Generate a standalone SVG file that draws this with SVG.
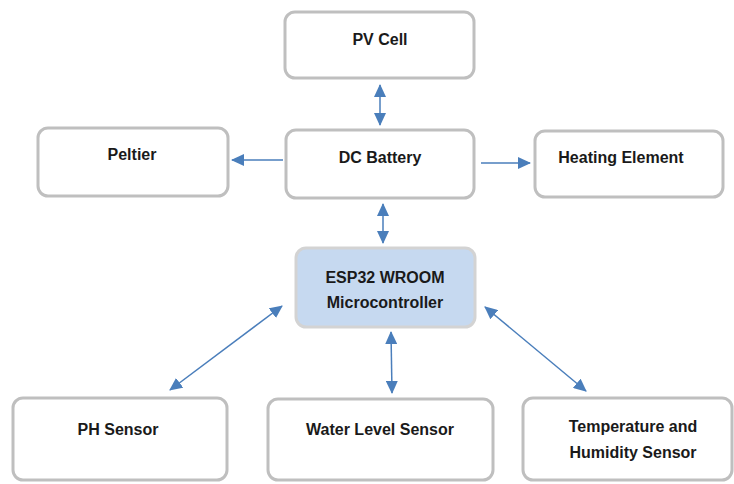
<svg xmlns="http://www.w3.org/2000/svg" width="734" height="484" viewBox="0 0 734 484">
<style>
.box{fill:#ffffff;stroke:#bfbfbf;stroke-width:3}
.mc{fill:#c6d9f0;stroke:#d3d3d3;stroke-width:3}
.t{font-family:"Liberation Sans",Arial,sans-serif;font-weight:bold;font-size:16px;fill:#1a1a1a;text-anchor:middle}
.c{stroke:#4a7ebb;stroke-width:1.5;fill:none}
</style>
<defs>
<marker id="ah" viewBox="0 0 13 12" refX="12" refY="6" markerWidth="13" markerHeight="12" markerUnits="userSpaceOnUse" orient="auto-start-reverse">
<path d="M0,0 L13,6 L0,12 Z" fill="#4a7ebb"/>
</marker>
</defs>
<g id="pv"><rect class="box" x="285" y="12" width="189" height="66" rx="10"/><text class="t" x="380" y="45">PV Cell</text></g>
<g id="battery"><rect class="box" x="286" y="130" width="188" height="68" rx="10"/><text class="t" x="380" y="163">DC Battery</text></g>
<g id="peltier"><rect class="box" x="38" y="128" width="190" height="68" rx="10"/><text class="t" x="132" y="160">Peltier</text></g>
<g id="heating"><rect class="box" x="535" y="131" width="188" height="66" rx="10"/><text class="t" x="621" y="163">Heating Element</text></g>
<g id="esp"><rect class="mc" x="296" y="248" width="179" height="79" rx="10"/><text class="t" x="385" y="283">ESP32 WROOM</text><text class="t" x="385" y="308">Microcontroller</text></g>
<g id="ph"><rect class="box" x="13" y="398" width="214" height="82" rx="10"/><text class="t" x="118" y="435">PH Sensor</text></g>
<g id="water"><rect class="box" x="268" y="399" width="225" height="81" rx="10"/><text class="t" x="380" y="435">Water Level Sensor</text></g>
<g id="temp"><rect class="box" x="523" y="398" width="209" height="82" rx="10"/><text class="t" x="633" y="432">Temperature and</text><text class="t" x="633" y="458">Humidity Sensor</text></g>
<g id="connectors">
<line class="c" x1="380" y1="85" x2="380" y2="125" marker-start="url(#ah)" marker-end="url(#ah)"/>
<line class="c" x1="283" y1="160" x2="232" y2="160" marker-end="url(#ah)"/>
<line class="c" x1="481" y1="163" x2="530" y2="163" marker-end="url(#ah)"/>
<line class="c" x1="383" y1="204" x2="383" y2="243" marker-start="url(#ah)" marker-end="url(#ah)"/>
<line class="c" x1="391" y1="332" x2="392" y2="393" marker-start="url(#ah)" marker-end="url(#ah)"/>
<line class="c" x1="282" y1="306" x2="170" y2="390" marker-start="url(#ah)" marker-end="url(#ah)"/>
<line class="c" x1="485" y1="307" x2="586" y2="391" marker-start="url(#ah)" marker-end="url(#ah)"/>
</g>
</svg>
